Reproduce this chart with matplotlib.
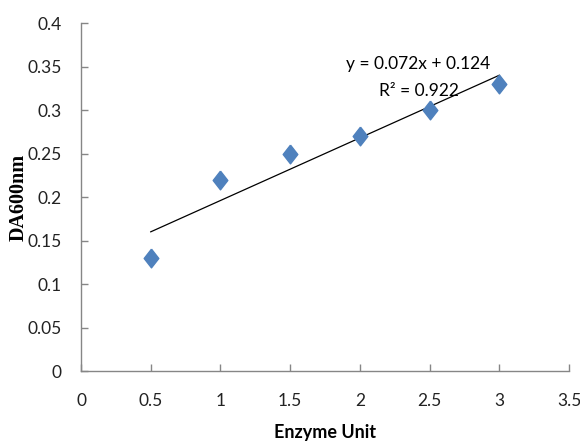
import matplotlib.pyplot as plt
import numpy as np

# enzyme units vs absorbance
enzyme_unit = [0.5, 1.0, 1.5, 2.0, 2.5, 3.0]
da600 = [0.13, 0.22, 0.25, 0.27, 0.30, 0.33]
x_ticks = [0, 0.5, 1, 1.5, 2, 2.5, 3, 3.5]
y_ticks = [0, 0.05, 0.1, 0.15, 0.2, 0.25, 0.3, 0.35, 0.4]

narrow = ['Lato', 'DejaVu Sans']
blue = '#4F81BD'
grey = '#868686'

fig = plt.figure(figsize=(5.8, 4.42), dpi=100)
ax = fig.add_axes([0.1397, 0.1606, 0.8414, 0.7873])

# linear trendline, excel style
slope, icpt = np.polyfit(enzyme_unit, da600, 1)
xs = np.array([min(enzyme_unit), max(enzyme_unit)])
ax.plot(xs, slope * xs + icpt, color='black', lw=0.9, zorder=2)
pred = slope * np.array(enzyme_unit) + icpt
r2 = 1 - np.sum((np.array(da600) - pred) ** 2) / np.sum((np.array(da600) - np.mean(da600)) ** 2)

diamond = [(0, 1), (0.78, 0), (0, -1), (-0.78, 0), (0, 1)]
ax.plot(enzyme_unit, da600, ls='none', marker=diamond, markersize=13.5,
        color=blue, markeredgecolor=blue, zorder=3)

ax.text(2.42, 0.353, 'y = %.3fx + %.3f' % (slope, icpt), fontsize=12.5,
        family=narrow, ha='center', va='center')
ax.text(2.42, 0.322, 'R\u00b2 = %.3f' % r2, fontsize=12.5,
        family=narrow, ha='center', va='center')

ax.set_xlim(0, 3.5)
ax.set_ylim(0, 0.4)
ax.set_xticks(x_ticks)
ax.set_yticks(y_ticks)
ax.set_xticklabels(['%g' % t for t in x_ticks])
ax.set_yticklabels(['%g' % t for t in y_ticks])
for lab in ax.get_xticklabels() + ax.get_yticklabels():
    lab.set_family(narrow)
    lab.set_fontsize(12.5)
    lab.set_color('#222222')

for s in ['top', 'right']:
    ax.spines[s].set_visible(False)
for s in ['left', 'bottom']:
    ax.spines[s].set_color(grey)
    ax.spines[s].set_linewidth(1.0)
ax.tick_params(direction='in', length=5, color=grey, width=1.0, pad=14)
ax.tick_params(axis='x', pad=16)

ax.set_xlabel('Enzyme Unit', fontsize=13, fontweight='bold', family=narrow)
ax.set_ylabel('DA600nm', fontsize=14.5, fontweight='bold', family='Liberation Serif')
ax.xaxis.set_label_coords(0.5, -0.152)
ax.yaxis.set_label_coords(-0.108, 0.5)

fig.savefig('out.png', dpi=100)
